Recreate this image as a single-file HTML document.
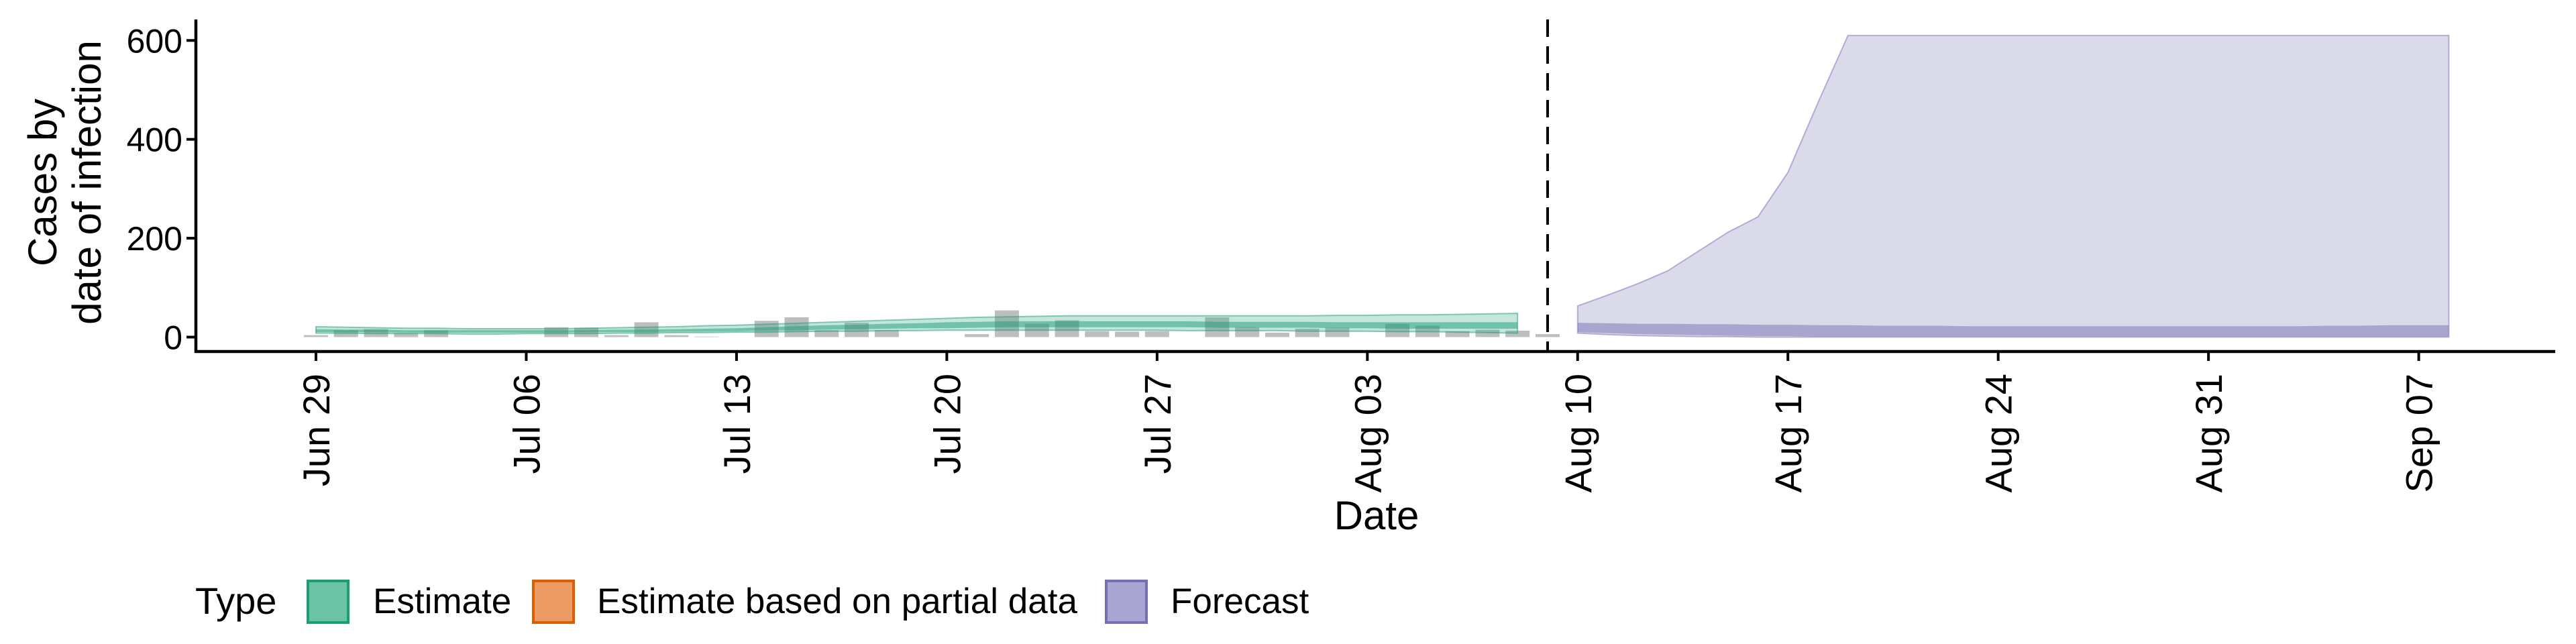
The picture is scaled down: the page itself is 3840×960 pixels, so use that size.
<!DOCTYPE html>
<html><head><meta charset="utf-8"><style>
html,body{margin:0;padding:0;background:#fff}
svg{display:block}
text{font-family:"Liberation Sans",sans-serif;fill:#000}
</style></head><body>
<svg id="chart" width="3840" height="960" viewBox="0 0 3840 960" xmlns="http://www.w3.org/2000/svg">
<g id="bars"></g>
<g id="ribbons"></g>
<g id="axes"></g>
<text transform="translate(84,272) rotate(-90)" text-anchor="middle" font-size="60">Cases by</text>
<text transform="translate(150,272) rotate(-90)" text-anchor="middle" font-size="60">date of infection</text>
<text x="2052" y="789" text-anchor="middle" font-size="60">Date</text>
<g>
<text x="291" y="915" font-size="56">Type</text>
<rect x="459" y="866" width="60" height="62" fill="#6cc2a5" stroke="#1b9e77" stroke-width="4"/>
<text x="556" y="914" font-size="53">Estimate</text>
<rect x="795" y="866" width="60" height="62" fill="#eb9b63" stroke="#d95f02" stroke-width="4"/>
<text x="890" y="914" font-size="53">Estimate based on partial data</text>
<rect x="1649" y="866" width="60" height="62" fill="#aaa5d3" stroke="#7570b3" stroke-width="4"/>
<text x="1745" y="914" font-size="53">Forecast</text>
</g>
</svg>
<script>
// Data (day index 0 = Jun 29)
const caseValues = [4,14,16,8,14,0,0,0,20,19,4,30,4,1,0,33,40,14,29,14,0,0,6,54,27,34,12,11,12,0,40,20,9,17,19,0,27,23,12,15,13,6];
const estUpper90 = [21,20,19,18,18,17,17,17,17,18,19,20,21,23,24,26,28,30,32,34,36,38,40,41,42,43,43,43,43,43,43,43,43,43,44,44,45,45,46,47,48];
const estLower90 = [8,8,7,7,7,6,6,7,7,7,8,8,9,9,10,10,11,12,12,13,13,14,14,14,14,14,14,14,14,13,13,13,13,12,12,12,11,11,10,9,8];
const estUpper50 = [16,15,15,14,14,14,14,14,14,14,15,15,16,17,18,20,22,24,25,27,28,30,31,32,32,32,32,32,32,32,31,31,31,31,30,30,30,30,30,30,30];
const estLower50 = [10,10,10,9,9,9,9,9,9,10,10,10,11,11,12,13,14,15,16,17,18,18,19,20,20,20,20,20,20,20,19,19,19,19,18,18,17,17,17,17,17];
const fcStart = 42;
const fcUpper90 = [63,85,108,134,173,212,243,333,474,610,610,610,610,610,610,610,610,610,610,610,610,610,610,610,610,610,610,610,610,610];
const fcLower90 = [8,5,3,2,1,1,0,0,0,0,0,0,0,0,0,0,0,0,0,0,0,0,0,0,0,0,0,0,0,0];
const fcUpper50 = [29,28,27,27,26,26,25,25,24,24,23,23,23,22,22,22,22,22,22,22,22,22,22,22,22,23,23,24,24,24];
const fcLower50 = [10,8,6,5,4,3,2,2,1,1,1,1,1,1,1,1,1,1,1,1,1,1,1,1,1,1,1,1,1,1];
const yTicks = [0,200,400,600];
const xTickDays = [0,7,14,21,28,35,42,49,56,63,70];
const xTickLabels = ["Jun 29","Jul 06","Jul 13","Jul 20","Jul 27","Aug 03","Aug 10","Aug 17","Aug 24","Aug 31","Sep 07"];
const cutoffDay = 41;

const NS="http://www.w3.org/2000/svg";
const X = d => 471 + d*44.78;
const Y = v => 502.5 - v*0.737;
function mk(tag, parent, attrs){const e=document.createElementNS(NS,tag);for(const k in attrs)e.setAttribute(k,attrs[k]);parent.appendChild(e);return e;}

const gb=document.getElementById('bars');
caseValues.forEach((v,i)=>{
  if(v<=0) return;
  const r=mk('rect',gb,{x:X(i)-18,y:Y(v),width:36,height:Y(0)-Y(v),fill:'#bebebe'});
  
  
});

function band(parent, start, up, lo, fill, op, stroke, name){
  let d='';
  up.forEach((v,i)=>{d+=(i?'L':'M')+X(start+i).toFixed(1)+','+Y(v).toFixed(1);});
  for(let i=lo.length-1;i>=0;i--) d+='L'+X(start+i).toFixed(1)+','+Y(lo[i]).toFixed(1);
  d+='Z';
  const p=mk('path',parent,{d:d,fill:fill,'fill-opacity':op,stroke:stroke,'stroke-width':2,'stroke-opacity':0.5});
  
  
}
const gr=document.getElementById('ribbons');
band(gr,0,estUpper90,estLower90,'#1b9e77',0.26,'#1b9e77','estimate-90-ribbon');
band(gr,0,estUpper50,estLower50,'#1b9e77',0.5,'none','estimate-50-ribbon');
band(gr,fcStart,fcUpper90,fcLower90,'#7570b3',0.26,'#7570b3','forecast-90-ribbon');
band(gr,fcStart,fcUpper50,fcLower50,'#7570b3',0.5,'none','forecast-50-ribbon');

const ga=document.getElementById('axes');
const cut=mk('line',ga,{x1:X(cutoffDay),x2:X(cutoffDay),y1:29,y2:524,stroke:'#000','stroke-width':4,'stroke-dasharray':'26,14'});


const ya=mk('line',ga,{x1:292,x2:292,y1:29,y2:526,stroke:'#000','stroke-width':4.5});


const xa=mk('line',ga,{x1:290,x2:3809,y1:524,y2:524,stroke:'#000','stroke-width':4.5});


yTicks.forEach(v=>{
  const t=mk('line',ga,{x1:278,x2:292,y1:Y(v),y2:Y(v),stroke:'#000','stroke-width':4});
  
  
  const l=mk('text',ga,{x:272,y:Y(v)+18,'text-anchor':'end','font-size':50});
  l.textContent=v;
  
  
});
xTickDays.forEach((d,i)=>{
  const t=mk('line',ga,{x1:X(d),x2:X(d),y1:524,y2:538,stroke:'#000','stroke-width':4});
  
  
  const l=mk('text',ga,{transform:`translate(${X(d)+20},557) rotate(-90)`,'text-anchor':'end','font-size':56});
  l.textContent=xTickLabels[i];
  
  
});
</script>
</body></html>
